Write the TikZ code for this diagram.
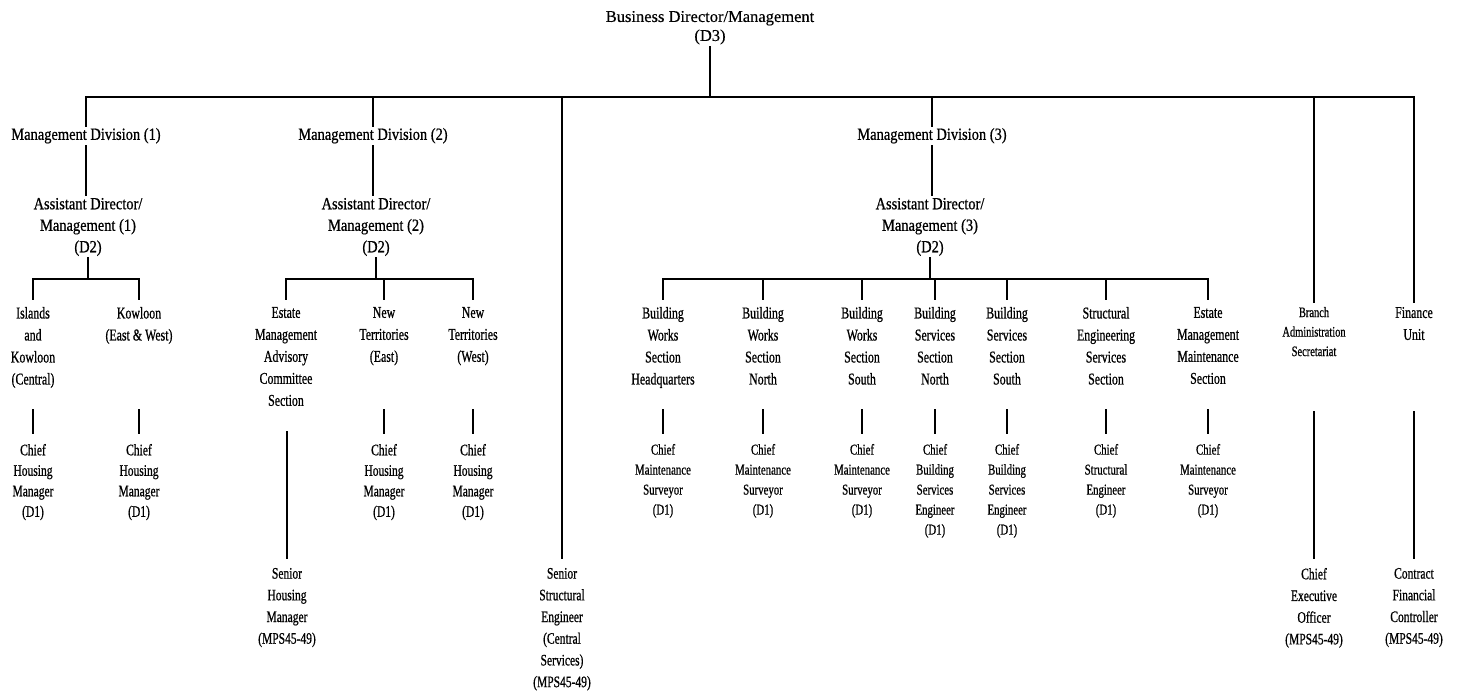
\documentclass[tikz,border=0pt]{standalone}
\usepackage{fontspec}
\newfontfamily\fT[FakeBold=0.4]{Liberation Serif}
\newfontfamily\fC[FakeStretch=0.85,FakeBold=0.7]{Liberation Serif}
\newfontfamily\fN[FakeStretch=0.72,FakeBold=0.7]{Liberation Serif}
\begin{document}
\begin{tikzpicture}[x=1pt,y=-1pt,
  lbl/.style={align=center, inner sep=0pt, outer sep=2pt, anchor=north},
  ttl/.style={lbl, font=\fT\fontsize{16.5}{19}\selectfont},
  divl/.style={lbl, font=\fC\fontsize{17}{21.5}\selectfont},
  sect/.style={lbl, font=\fN\fontsize{16.5}{22}\selectfont},
  chf/.style={lbl, font=\fN\fontsize{16}{20.5}\selectfont},
  chs/.style={lbl, font=\fN\fontsize{15}{20}\selectfont},
  sml/.style={lbl, font=\fN\fontsize{14.5}{19.5}\selectfont},
  snr/.style={lbl, font=\fN\fontsize{16}{21.7}\selectfont},
  ln/.style={line width=1.3pt, line cap=rect}
]
\useasboundingbox (0,0) rectangle (1463,697);
\fill[white] (0,0) rectangle (1463,697);

% coordinates for horizontal bus lines
\coordinate (h0) at (710,97);
\coordinate (h1) at (0,279);
\coordinate (st) at (0,410);
\coordinate (lo) at (0,412);

% top
\node[ttl] (title) at (710,9) {Business Director/Management\\(D3)};

% divisions
\node[divl] (div1) at (86,126) {Management Division (1)};
\node[divl] (div2) at (373,126) {Management Division (2)};
\node[divl] (div3) at (932,126) {Management Division (3)};

\node[divl] (ad1) at (88,196) {Assistant Director/\\Management (1)\\(D2)};
\node[divl] (ad2) at (376,196) {Assistant Director/\\Management (2)\\(D2)};
\node[divl] (ad3) at (930,196) {Assistant Director/\\Management (3)\\(D2)};

% division 1 sections
\node[sect] (s11) at (33,305) {Islands\\and\\Kowloon\\(Central)};
\node[sect] (s12) at (139,305) {Kowloon\\(East \& West)};
% division 2 sections
\node[sect] (s21) at (286,305) {Estate\\Management\\Advisory\\Committee\\Section};
\node[sect] (s22) at (384,305) {New\\Territories\\(East)};
\node[sect] (s23) at (473,305) {New\\Territories\\(West)};
% division 3 sections
\node[sect] (s31) at (663,305) {Building\\Works\\Section\\Headquarters};
\node[sect] (s32) at (763,305) {Building\\Works\\Section\\North};
\node[sect] (s33) at (862,305) {Building\\Works\\Section\\South};
\node[sect] (s34) at (935,305) {Building\\Services\\Section\\North};
\node[sect] (s35) at (1007,305) {Building\\Services\\Section\\South};
\node[sect] (s36) at (1106,305) {Structural\\Engineering\\Services\\Section};
\node[sect] (s37) at (1208,305) {Estate\\Management\\Maintenance\\Section};

% branch admin / finance
\node[sml] (bas) at (1314,305) {Branch\\Administration\\Secretariat};
\node[sect] (fin) at (1414,305) {Finance\\Unit};

% D1 posts
\node[chf] (c11) at (33,442) {Chief\\Housing\\Manager\\(D1)};
\node[chf] (c12) at (139,442) {Chief\\Housing\\Manager\\(D1)};
\node[chf] (c22) at (384,442) {Chief\\Housing\\Manager\\(D1)};
\node[chf] (c23) at (473,442) {Chief\\Housing\\Manager\\(D1)};
\node[chs] (c31) at (663,442) {Chief\\Maintenance\\Surveyor\\(D1)};
\node[chs] (c32) at (763,442) {Chief\\Maintenance\\Surveyor\\(D1)};
\node[chs] (c33) at (862,442) {Chief\\Maintenance\\Surveyor\\(D1)};
\node[chs] (c34) at (935,442) {Chief\\Building\\Services\\Engineer\\(D1)};
\node[chs] (c35) at (1007,442) {Chief\\Building\\Services\\Engineer\\(D1)};
\node[chs] (c36) at (1106,442) {Chief\\Structural\\Engineer\\(D1)};
\node[chs] (c37) at (1208,442) {Chief\\Maintenance\\Surveyor\\(D1)};

% MPS posts
\node[snr] (shm) at (287,566) {Senior\\Housing\\Manager\\(MPS45-49)};
\node[snr] (sst) at (562,566) {Senior\\Structural\\Engineer\\(Central\\Services)\\(MPS45-49)};
\node[snr] (ceo) at (1314,566) {Chief\\Executive\\Officer\\(MPS45-49)};
\node[snr] (cfc) at (1414,566) {Contract\\Financial\\Controller\\(MPS45-49)};

% ---------- connectors ----------
\draw[ln] (title.south) -- (h0);
\draw[ln] (div1.north |- h0) -- (fin.north |- h0);
\foreach \n in {div1,div2,div3} \draw[ln] (\n.north |- h0) -- (\n.north);
\foreach \n in {bas,fin} \draw[ln] (\n.north |- h0) -- ([yshift=3pt]\n.north);
\draw[ln] (sst.north |- h0) -- ([yshift=8pt]sst.north);

% division to assistant director
\foreach \a/\b in {div1/ad1,div2/ad2,div3/ad3}
  \draw[ln] (\a.south) -- ([yshift=1pt]\a.south |- \b.north);

% assistant director to section bus
\foreach \a in {ad1,ad2,ad3} \draw[ln] (\a.south) -- (\a.south |- h1);
\draw[ln] (s11.north |- h1) -- (s12.north |- h1);
\draw[ln] (s21.north |- h1) -- (s23.north |- h1);
\draw[ln] (s31.north |- h1) -- (s37.north |- h1);
\foreach \s in {s11,s12,s21,s22,s23,s31,s32,s33,s34,s35,s36,s37}
  \draw[ln] (\s.north |- h1) -- ([yshift=6pt]\s.north);

% stubs to D1 posts
\foreach \c in {c11,c12,c22,c23,c31,c32,c33,c34,c35,c36,c37}
  \draw[ln] (\c.north |- st) -- ([yshift=9pt]\c.north);

% long lines to MPS posts
\draw[ln] ([yshift=-24pt]s21.south -| shm.north) -- ([yshift=8pt]shm.north);
\draw[ln] (ceo.north |- lo) -- ([yshift=8pt]ceo.north);
\draw[ln] (cfc.north |- lo) -- ([yshift=8pt]cfc.north);
\end{tikzpicture}
\end{document}
